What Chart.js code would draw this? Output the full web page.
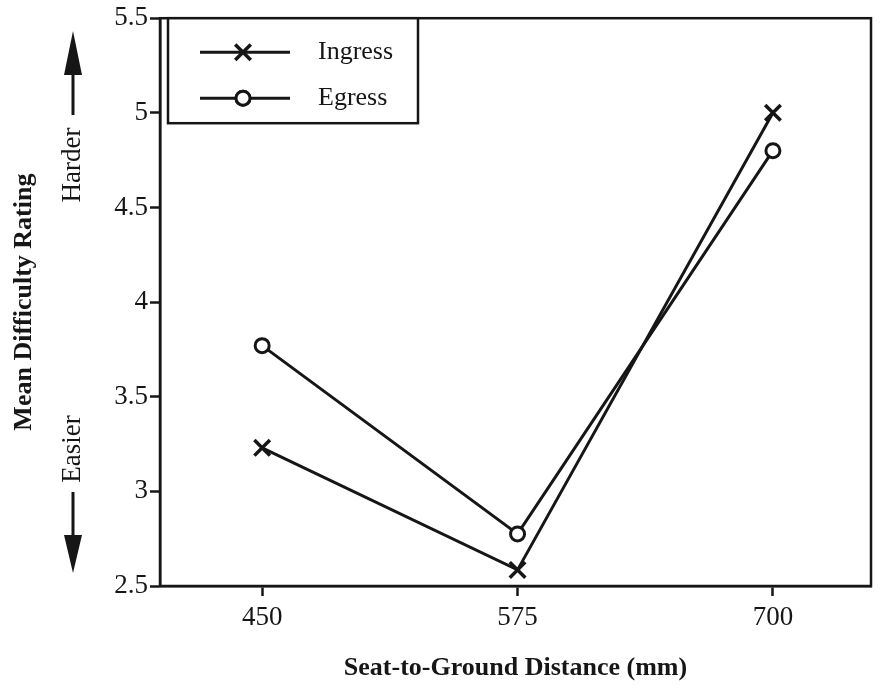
<!DOCTYPE html>
<html>
<head>
<meta charset="utf-8">
<script src="https://cdn.jsdelivr.net/npm/chart.js@4"></script>
<style>
  html, body { margin: 0; padding: 0; background: #fff; }
  #wrap { width: 882px; height: 689px; }
</style>
</head>
<body>
<div id="wrap"><canvas id="ratingChart" width="882" height="689"></canvas></div>
<script>
// data
const distances = [450, 575, 700];
const ingress = [3.23, 2.585, 5.0];
const egress = [3.77, 2.775, 4.8];
const yTicks = [2.5, 3, 3.5, 4, 4.5, 5, 5.5];

const ink = '#161616';
const serif = "'Liberation Serif', 'DejaVu Serif', serif";

// frame, legend box and the harder / easier arrows
const extras = {
  id: 'extras',
  afterDraw(chart) {
    const ctx = chart.ctx;
    const a = chart.chartArea;
    ctx.save();
    ctx.strokeStyle = ink;
    ctx.fillStyle = ink;

    // plot frame
    ctx.lineWidth = 2.5;
    ctx.strokeRect(a.left, a.top, a.right - a.left, a.bottom - a.top);

    // legend
    const lx = a.left + 8, ly = a.top, lw = 250, lh = 105;
    ctx.fillStyle = '#fff';
    ctx.fillRect(lx, ly, lw, lh);
    ctx.lineWidth = 2.5;
    ctx.strokeRect(lx, ly, lw, lh);
    chart.data.datasets.forEach(function (ds, i) {
      const y = ly + 34 + i * 46;
      ctx.strokeStyle = ink;
      ctx.lineWidth = 3;
      ctx.beginPath();
      ctx.moveTo(lx + 32, y);
      ctx.lineTo(lx + 122, y);
      ctx.stroke();
      ctx.lineWidth = ds.pointBorderWidth;
      Chart.helpers.drawPoint(ctx, {
        pointStyle: ds.pointStyle,
        radius: ds.pointRadius,
        borderWidth: ds.pointBorderWidth,
        rotation: 0
      }, lx + 75, y);
      if (ds.pointStyle === 'circle') {
        ctx.fillStyle = '#fff';
        ctx.beginPath();
        ctx.arc(lx + 75, y, ds.pointRadius, 0, Math.PI * 2);
        ctx.fill();
        ctx.stroke();
      }
      ctx.fillStyle = ink;
      ctx.font = '26px ' + serif;
      ctx.textAlign = 'left';
      ctx.textBaseline = 'middle';
      ctx.fillText(ds.label, lx + 150, y);
    });

    // harder / easier
    const ax = 73;
    ctx.lineWidth = 3;
    ctx.fillStyle = ink;
    // up arrow
    ctx.beginPath();
    ctx.moveTo(ax, 115);
    ctx.lineTo(ax, 70);
    ctx.stroke();
    ctx.beginPath();
    ctx.moveTo(ax, 31);
    ctx.lineTo(ax - 9, 75);
    ctx.lineTo(ax + 9, 75);
    ctx.closePath();
    ctx.fill();
    // down arrow
    ctx.beginPath();
    ctx.moveTo(ax, 492);
    ctx.lineTo(ax, 540);
    ctx.stroke();
    ctx.beginPath();
    ctx.moveTo(ax, 573);
    ctx.lineTo(ax - 9, 535);
    ctx.lineTo(ax + 9, 535);
    ctx.closePath();
    ctx.fill();

    ctx.font = '27px ' + serif;
    ctx.textAlign = 'center';
    ctx.textBaseline = 'middle';
    ctx.save();
    ctx.translate(ax, 165);
    ctx.rotate(-Math.PI / 2);
    ctx.fillText('Harder', 0, 0);
    ctx.restore();
    ctx.save();
    ctx.translate(ax, 449);
    ctx.rotate(-Math.PI / 2);
    ctx.fillText('Easier', 0, 0);
    ctx.restore();

    ctx.restore();
  }
};

function series(label, values, style, radius, bw) {
  return {
    label: label,
    data: distances.map(function (d, i) { return { x: d, y: values[i] }; }),
    borderColor: ink,
    borderWidth: 3,
    pointStyle: style,
    pointRadius: radius,
    pointBorderWidth: bw,
    pointBorderColor: ink,
    pointBackgroundColor: '#fff',
    tension: 0,
    clip: false
  };
}

const ctx = document.getElementById('ratingChart').getContext('2d');
new Chart(ctx, {
  type: 'line',
  data: {
    datasets: [
      series('Ingress', ingress, 'crossRot', 11, 3.5),
      series('Egress', egress, 'circle', 7, 3)
    ]
  },
  options: {
    responsive: false,
    animation: false,
    layout: { autoPadding: false, padding: { left: 0, right: 11, top: 18, bottom: 0 } },
    plugins: {
      legend: { display: false },
      tooltip: { enabled: false }
    },
    scales: {
      x: {
        type: 'linear',
        min: 400,
        max: 748,
        afterBuildTicks: function (scale) {
          scale.ticks = distances.map(function (v) { return { value: v }; });
        },
        afterFit: function (scale) { scale.height = 103; },
        grid: { drawOnChartArea: false, tickLength: 10, color: ink, tickWidth: 2.5 },
        border: { color: ink, width: 2.5 },
        ticks: {
          color: ink,
          padding: 6,
          font: { family: serif, size: 27 },
          callback: function (v) { return String(v); }
        },
        title: {
          display: true,
          text: 'Seat-to-Ground Distance (mm)',
          color: ink,
          font: { family: serif, size: 26, weight: 'bold' },
          padding: { top: 0, bottom: 5 }
        }
      },
      y: {
        min: 2.5,
        max: 5.5,
        afterBuildTicks: function (scale) {
          scale.ticks = yTicks.map(function (v) { return { value: v }; });
        },
        afterFit: function (scale) { scale.width = 160; },
        grid: { drawOnChartArea: false, tickLength: 10, color: ink, tickWidth: 2.5 },
        border: { color: ink, width: 2.5 },
        ticks: {
          color: ink,
          padding: 2,
          font: { family: serif, size: 27 },
          callback: function (v) { return String(v); }
        },
        title: {
          display: true,
          text: 'Mean Difficulty Rating',
          color: ink,
          font: { family: serif, size: 26, weight: 'bold' },
          padding: { top: 9, bottom: 0 }
        }
      }
    }
  },
  plugins: [extras]
});
</script>
</body>
</html>
